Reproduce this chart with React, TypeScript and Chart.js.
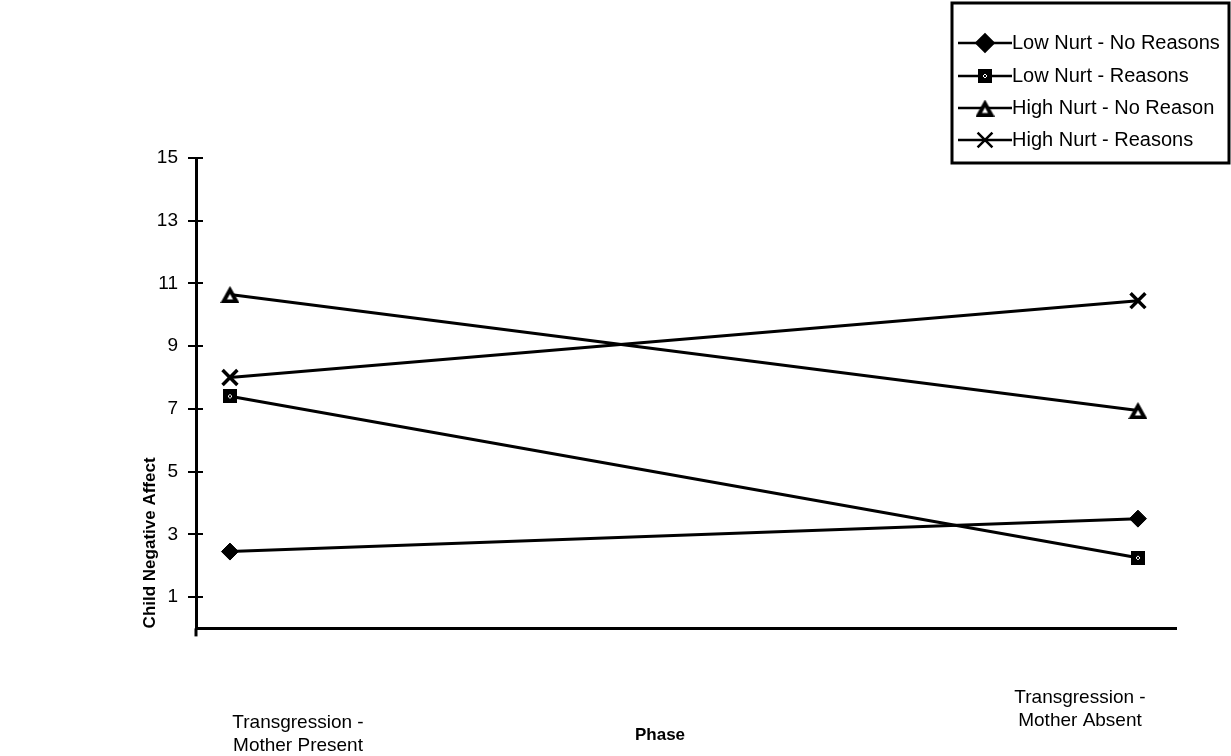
import React, { useEffect, useRef } from 'react';
import { Chart, registerables } from 'chart.js';
import { drawPoint } from 'chart.js/helpers';

Chart.register(...registerables);

// ---- data ----
const phaseX = [0, 1];
const phaseLines = [
  ['Transgression -', 'Mother Present'],
  ['Transgression -', 'Mother Absent'],
];
const seriesLabels = [
  'Low Nurt - No Reasons',
  'Low Nurt - Reasons',
  'High Nurt - No Reason',
  'High Nurt - Reasons',
];
const lowNurtNoReasons = [2.45, 3.5];
const lowNurtReasons = [7.4, 2.25];
const highNurtNoReason = [10.65, 6.95];
const highNurtReasons = [8.0, 10.45];
const yTickValues = [1, 3, 5, 7, 9, 11, 13, 15];
const yTitle = 'Child Negative Affect';
const xTitle = 'Phase';

const FONT = 'Arial, "Liberation Sans", sans-serif';

function makeSquare(): HTMLCanvasElement {
  const c = document.createElement('canvas');
  c.width = 14;
  c.height = 14;
  const g = c.getContext('2d')!;
  g.fillStyle = '#000';
  g.fillRect(0, 0, 14, 14);
  g.fillStyle = '#fff';
  g.fillRect(6, 5, 2, 1);
  g.fillRect(6, 8, 2, 1);
  g.fillRect(5, 6, 1, 2);
  g.fillRect(8, 6, 1, 2);
  return c;
}

function makeTriangle(): HTMLCanvasElement {
  const c = document.createElement('canvas');
  c.width = 19;
  c.height = 17;
  const g = c.getContext('2d')!;
  g.fillStyle = '#000';
  g.beginPath();
  g.moveTo(9.5, 0);
  g.lineTo(19, 17);
  g.lineTo(0, 17);
  g.closePath();
  g.fill();
  g.fillStyle = '#fff';
  g.beginPath();
  g.moveTo(9.5, 8);
  g.lineTo(12.5, 13.5);
  g.lineTo(6.5, 13.5);
  g.closePath();
  g.fill();
  return c;
}

const overlayPlugin = {
  id: 'overlay',
  beforeDraw(chart: any) {
    const ctx = chart.ctx;
    ctx.save();
    ctx.fillStyle = '#fff';
    ctx.fillRect(0, 0, chart.width, chart.height);
    ctx.restore();
  },
  afterDraw(chart: any) {
    const ctx = chart.ctx;
    const yScale = chart.scales.y;
    const area = chart.chartArea;
    ctx.save();
    // inner halves of the y tick marks
    ctx.strokeStyle = '#000';
    ctx.lineWidth = 2;
    yTickValues.forEach((v) => {
      const py = Math.round(yScale.getPixelForValue(v));
      ctx.beginPath();
      ctx.moveTo(area.left, py);
      ctx.lineTo(area.left + 7, py);
      ctx.stroke();
    });
    // y axis extends slightly below x axis
    ctx.lineWidth = 3;
    ctx.beginPath();
    ctx.moveTo(area.left, area.bottom);
    ctx.lineTo(area.left, area.bottom + 8);
    ctx.stroke();

    // category labels
    ctx.fillStyle = '#000';
    ctx.textAlign = 'center';
    ctx.textBaseline = 'middle';
    ctx.font = `19px ${FONT}`;
    const catPos = [
      { x: 298, y: 723 },
      { x: 1080, y: 698 },
    ];
    phaseLines.forEach((lines, i) => {
      lines.forEach((t, j) => {
        ctx.fillText(t, catPos[i].x, catPos[i].y + j * 23);
      });
    });
    // x title
    ctx.font = `bold 17px ${FONT}`;
    ctx.fillText(xTitle, 660, 735);

    // legend
    const box = { l: 952, t: 3, r: 1229, b: 163 };
    ctx.lineWidth = 3;
    ctx.strokeRect(box.l, box.t, box.r - box.l, box.b - box.t);
    const rowY = [43, 76, 108, 140];
    chart.data.datasets.forEach((ds: any, i: number) => {
      const y = rowY[i];
      ctx.strokeStyle = '#000';
      ctx.lineWidth = 2.5;
      ctx.beginPath();
      ctx.moveTo(958, y);
      ctx.lineTo(1012, y);
      ctx.stroke();
      ctx.fillStyle = '#000';
      drawPoint(
        ctx,
        {
          pointStyle: ds.pointStyle,
          radius: ds.pointRadius,
          borderWidth: ds.pointBorderWidth,
          rotation: 0,
        } as any,
        985,
        y
      );
      ctx.fillStyle = '#000';
      ctx.textAlign = 'left';
      ctx.textBaseline = 'middle';
      ctx.font = `20px ${FONT}`;
      ctx.fillText(ds.label, 1012, y);
    });
    ctx.restore();
  },
};

export default function App() {
  const ref = useRef<HTMLCanvasElement | null>(null);

  useEffect(() => {
    if (!ref.current) return;
    const square = makeSquare();
    const triangle = makeTriangle();
    const toPts = (arr: number[]) => arr.map((v, i) => ({ x: phaseX[i], y: v }));
    const base = {
      borderColor: '#000',
      borderWidth: 3,
      pointBackgroundColor: '#000',
      pointBorderColor: '#000',
      fill: false,
      tension: 0,
    };
    const chart = new Chart(ref.current, {
      type: 'line',
      data: {
        datasets: [
          { ...base, label: seriesLabels[0], data: toPts(lowNurtNoReasons), pointStyle: 'rectRot', pointRadius: 8.5, pointBorderWidth: 1 },
          { ...base, label: seriesLabels[1], data: toPts(lowNurtReasons), pointStyle: square, pointRadius: 7, pointBorderWidth: 0 },
          { ...base, label: seriesLabels[2], data: toPts(highNurtNoReason), pointStyle: triangle, pointRadius: 8, pointBorderWidth: 0 },
          { ...base, label: seriesLabels[3], data: toPts(highNurtReasons), pointStyle: 'crossRot', pointRadius: 10.5, pointBorderWidth: 3.5 },
        ] as any,
      },
      options: {
        responsive: false,
        animation: false,
        devicePixelRatio: 1,
        layout: { padding: { left: 136, top: 158, right: 55, bottom: 0 } },
        plugins: { legend: { display: false }, tooltip: { enabled: false }, title: { display: false } },
        scales: {
          x: {
            type: 'linear',
            min: -0.0374,
            max: 1.0419,
            ticks: { display: false },
            grid: { display: false },
            border: { display: true, color: '#000', width: 3 },
            afterFit: (s: any) => {
              s.height = 127.6;
            },
          },
          y: {
            type: 'linear',
            min: 0,
            max: 15,
            afterBuildTicks: (s: any) => {
              s.ticks = yTickValues.map((v) => ({ value: v }));
            },
            afterFit: (s: any) => {
              s.width = 60;
            },
            ticks: {
              color: '#000',
              font: { family: FONT, size: 19 },
              padding: 10,
              callback: (v: any) => String(v),
            },
            grid: { display: true, drawOnChartArea: false, drawTicks: true, tickLength: 8, color: '#000', lineWidth: 2 },
            border: { display: true, color: '#000', width: 3 },
            title: {
              display: true,
              text: yTitle,
              align: 'start',
              color: '#000',
              font: { family: FONT, size: 17, weight: 'bold' },
              padding: { top: 4, bottom: 4 },
            },
          },
        },
      } as any,
      plugins: [overlayPlugin],
    });
    return () => chart.destroy();
  }, []);

  return (
    <div style={{ position: 'fixed', left: 0, top: 0, width: 1231, height: 756, background: '#fff' }}>
      <canvas ref={ref} width={1231} height={756} />
    </div>
  );
}
